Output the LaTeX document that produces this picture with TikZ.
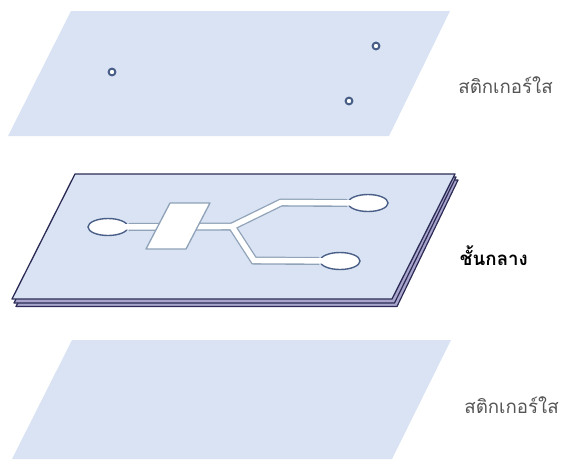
\documentclass[tikz,border=0pt]{standalone}
\usepackage{fontspec}
\newfontfamily\thaifont[Script=Thai]{Loma}
\usetikzlibrary{shapes.geometric}
\definecolor{sheet}{HTML}{D9E3F3}
\definecolor{ring}{HTML}{4A5F88}
\definecolor{edgecol}{HTML}{2B2B55}
\definecolor{under}{HTML}{A9A5CC}
\definecolor{chan}{HTML}{8FA2B8}
\definecolor{txt}{HTML}{555555}
\tikzset{
 x=1pt,y=-1pt,
 sheetfill/.style={fill=sheet,draw=none},
 layer/.style={fill=under,draw=edgecol,line width=1.2pt,line join=round},
 toplayer/.style={fill=sheet,draw=edgecol,line width=1.3pt,line join=round},
 holering/.style={circle,draw=ring,line width=2pt,fill=white,minimum size=6.8pt,inner sep=0pt},
 well/.style={ellipse,draw=ring,line width=1.4pt,fill=white,minimum width=40pt,minimum height=17pt,inner sep=0pt},
 chanout/.style={draw=chan,line width=8pt,line join=miter},
 chanin/.style={draw=white,line width=5.4pt,line join=miter},
 lbl/.style={text=txt,font=\thaifont\fontsize{18.7}{22}\selectfont,inner sep=0pt},
 lblb/.style={text=black,font=\thaifont\bfseries\fontsize{18.7}{22}\selectfont,inner sep=0pt},
}
\begin{document}
\begin{tikzpicture}
\useasboundingbox (0,0) rectangle (563,459);
% top sheet
\fill[sheetfill] (71,11) -- (450,11) -- (389,136) -- (8,136) -- cycle;
\node[holering] (h1) at (112,72) {};
\node[holering] (h2) at (376,46) {};
\node[holering] (h3) at (349,101) {};
% bottom sheet
\fill[sheetfill] (72,340) -- (451,340) -- (392,459) -- (12,459) -- cycle;
% middle stack
\draw[layer] (78,180) -- (458,180) -- (397,306.5) -- (16,306.5) -- cycle;
\draw[layer] (76,177) -- (456,177) -- (394.5,303) -- (14,303) -- cycle;
\draw[toplayer] (75,174) -- (455,174) -- (392,299) -- (12,299) -- cycle;
% channel network
\node[well] (wl) at (108,227) {};
\node[well] (wu) at (368,203) {};
\node[well] (wd) at (340,261) {};
\coordinate (j) at (232,226.5);
\coordinate (u1) at (281,202.5);
\coordinate (d1) at (254,260.5);
\draw[chanout] (wl.east) -- (j);
\draw[chanout] (j) -- (u1) -- (wu.west);
\draw[chanout] (j) -- (d1) -- (wd.west);
\draw[chanin] (wl.center) -- (j);
\draw[chanin] (j) -- (u1) -- (wu.center);
\draw[chanin] (j) -- (d1) -- (wd.center);
\path[fill=white,draw=chan,line width=1.3pt,line join=round] (170,203) -- (210,203) -- (186,249) -- (146,249) -- cycle;
% labels
\node[lbl,anchor=base east] (t1) at (553,93) {สติกเกอร์ใส};
\node[lblb,anchor=base east] (t2) at (528,265) {ชั้นกลาง};
\node[lbl,anchor=base east] (t3) at (559,413) {สติกเกอร์ใส};
\end{tikzpicture}
\end{document}
